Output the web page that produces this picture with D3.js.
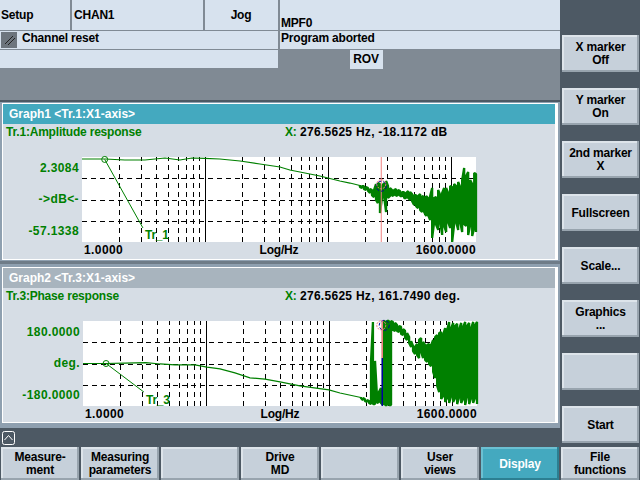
<!DOCTYPE html>
<html>
<head>
<meta charset="utf-8">
<script src="https://cdnjs.cloudflare.com/ajax/libs/d3/7.8.5/d3.min.js"></script>
<style>
html, body { margin: 0; padding: 0; background: #4d5964; overflow: hidden; }
svg { display: block; }
text { font-family: "Liberation Sans", sans-serif; font-weight: bold; font-size: 12px; letter-spacing: -0.2px; }
text.num { letter-spacing: 0.4px; }
text.read { letter-spacing: 0.28px; }
text.head { letter-spacing: 0; }
</style>
</head>
<body>
<svg id="screen" width="640" height="480"></svg>
<script>
// smooth part of both traces
const ampFreq = [1, 1.54, 2.23, 3.25, 4.73, 6.26, 7.84, 10, 13.2, 19.3, 28, 40.7, 49, 59.2, 86, 100, 125, 151, 182];
const ampDb = [0.9, 0.9, 0.2, 0.2, 1.6, 0.2, 1.6, 1.3, 0.9, -0.5, -2.6, -4.7, -6.8, -8.2, -11, -12.4, -14.5, -15.9, -17.6];
const phaseFreq = [1, 1.51, 2.2, 3.25, 4.23, 5.6, 8.14, 10.2, 13, 17.2, 22.8, 30.2, 40, 58, 100, 123, 182];
const phaseDeg = [0, 0, 2, 4, -2, -6, -6, -15, -23, -40, -61, -66, -78, -95, -112, -125, -144];

// noisy part: one high/low pair per frequency
const noiseFreq = [182, 189, 196, 204, 212, 220, 228, 237, 246, 255,
  265, 275, 286, 297, 308, 320, 332, 345, 358, 372,
  386, 401, 416, 432, 449, 466, 483, 502, 521, 541,
  562, 583, 606, 629, 653, 678, 704, 731, 759, 788,
  818, 849, 881, 915, 950, 986, 1024, 1063, 1104, 1146,
  1190, 1235, 1282, 1331, 1382, 1435, 1490, 1547, 1600];
const ampHigh = [-17.3, -18.0, -18.0, -18.7, -19.4, -20.1, -20.8, -20.8, -16.6, -15.9,
  -16.6, -18.0, -15.9, -14.5, -18.0, -19.4, -20.8, -20.8, -20.1, -20.8,
  -21.5, -22.2, -22.2, -22.9, -21.5, -22.2, -23.6, -24.3, -24.3, -25.0,
  -23.6, -25.0, -25.7, -25.0, -26.4, -25.0, -19.4, -26.4, -25.7, -20.8,
  -24.3, -22.9, -19.4, -19.4, -22.9, -18.0, -18.7, -16.6, -18.0, -15.2,
  -18.7, -13.8, -5.4, -11.0, -8.2, -13.8, -16.6, -8.9, -9.6];
const ampLow = [-18.7, -19.4, -20.1, -20.8, -21.5, -22.9, -24.3, -25.7, -27.8, -29.9,
  -36.9, -26.4, -25.0, -36.2, -26.4, -25.0, -25.0, -24.3, -25.0, -24.3,
  -25.0, -25.0, -26.4, -26.4, -26.4, -27.8, -28.5, -31.3, -32.0, -33.4,
  -34.8, -36.2, -36.2, -39.0, -38.3, -41.8, -54.3, -43.2, -45.2, -48.7,
  -43.2, -52.2, -45.9, -50.1, -43.2, -47.3, -57.1, -44.6, -43.2, -48.7,
  -43.2, -50.1, -44.6, -45.9, -52.2, -45.2, -52.9, -47.3, -50.1];
const phaseHigh = [-142, -146, -150, -155, -159, 11, 176, 11, -138, -121,
  -104, 176, 180, 180, 180, 180, 176, 172, 163, 159,
  155, 146, 138, 129, 112, 95, 74, 70, 83, 100,
  108, 91, 78, 78, 83, 78, 100, 112, 121, 129,
  133, 121, 150, 142, 176, 150, 172, 159, 168, 146,
  172, 155, 176, 159, 172, 150, 176, 163, 176];
const phaseLow = [-146, -155, -159, -163, -167, -172, -172, -172, -167, -163,
  -167, -176, -176, -176, -176, -176, 142, 138, 138, 133,
  125, 121, 108, 100, 87, 70, 53, 40, 36, 23,
  49, 23, 15, 6, -2, -11, -36, -61, -95, -121,
  -150, -138, -163, -146, -167, -138, -163, -146, -172, -142,
  -167, -150, -176, -138, -172, -146, -167, -142, -172];

const minorFreqs = [2, 3, 4, 5, 6, 7, 8, 9, 20, 30, 40, 50, 60, 70, 80, 90, 200, 300, 400, 500, 600, 700, 800, 900];
const majorFreqs = [10, 100, 1000];
const cursorFreq = 276.5625;

const sideKeys = [['X marker', 'Off'], ['Y marker', 'On'], ['2nd marker', 'X'], ['Fullscreen'], ['Scale...'], ['Graphics', '...'], [], ['Start']];
const bottomKeys = [['Measure-', 'ment'], ['Measuring', 'parameters'], [], ['Drive', 'MD'], [], ['User', 'views'], ['Display'], ['File', 'functions']];

const GREEN = '#008000';
const svg = d3.select('#screen');

function rect(parent, x, y, w, h, fill, stroke) {
  return parent.append('rect').attr('x', x).attr('y', y).attr('width', w).attr('height', h)
    .attr('fill', fill).attr('stroke', stroke || 'none').attr('shape-rendering', 'crispEdges');
}
function label(parent, x, y, str, color, anchor, cls) {
  return parent.append('text').attr('x', x).attr('y', y).attr('fill', color || '#000')
    .attr('text-anchor', anchor || 'start').attr('class', cls || null).text(str);
}
function softKey(x, y, w, h, lines, active) {
  const g = svg.append('g');
  rect(g, x, y, w, h, active ? '#44a9bf' : '#c6d0da');
  rect(g, x, y, w, 2, active ? '#6cc0d2' : '#dde4ea');
  rect(g, x, y, 2, h, active ? '#6cc0d2' : '#dde4ea');
  rect(g, x, y + h - 2, w, 2, active ? '#2c7f92' : '#98a4ae');
  rect(g, x + w - 2, y, 2, h, active ? '#2c7f92' : '#98a4ae');
  const cy = y + h / 2 + 4 - (lines.length - 1) * 6.5;
  lines.forEach((s, i) => label(g, x + w / 2, cy + i * 13, s, active ? '#fff' : '#000', 'middle'));
}

// header
rect(svg, 0, 0, 560, 101, '#808a94');
rect(svg, 0, 0, 560, 30, '#d7e2ee');
rect(svg, 0, 31, 278, 18, '#d7e2ee');
rect(svg, 280, 31, 280, 18, '#d7e2ee');
rect(svg, 0, 50, 278, 18, '#d7e2ee');
rect(svg, 350, 50, 33, 19, '#d7e2ee');
[70, 203, 278].forEach(x => rect(svg, x, 0, 2, 30, '#808a94'));
rect(svg, 278, 30, 2, 20, '#808a94');
rect(svg, 1, 32, 16, 16, '#6d757d');
svg.append('path').attr('d', 'M5 44L13 36M8 45L15 38').attr('stroke', '#222').attr('fill', 'none');
label(svg, 1, 19, 'Setup');
label(svg, 74, 19, 'CHAN1');
label(svg, 241, 19, 'Jog', '#000', 'middle');
label(svg, 281, 27, 'MPF0');
label(svg, 22, 42, 'Channel reset');
label(svg, 281, 42, 'Program aborted');
label(svg, 366, 63, 'ROV', '#000', 'middle');

// graph panels, outer blue rim and white inner rim
rect(svg, 0, 101, 560, 327, '#8fa0b0');
rect(svg, 0, 100, 560, 2, '#4d5964');
rect(svg, 2, 103, 556, 157, '#fff');
rect(svg, 2, 267, 556, 156, '#fff');
rect(svg, 3, 104, 552, 155, '#d6dde5');
rect(svg, 3, 268, 552, 154, '#d6dde5');
rect(svg, 3, 104, 552, 20, '#44a9bf');
rect(svg, 3, 268, 552, 20, '#a8b4be');
rect(svg, 0, 261, 560, 3, '#6f7c88');
rect(svg, 0, 428, 560, 20, '#4d5964');

function drawPlot(o) {
  const W = 394, H = 85;
  const g = svg.append('g').attr('transform', `translate(${o.x},${o.y})`);
  rect(g, 0, 0, W, H, '#fff');
  const xScale = d3.scaleLog().domain([1, 1600]).range([0, W]);
  const yScale = d3.scaleLinear().domain(o.yDomain).range([H, 0]);
  const mid = (o.yDomain[0] + o.yDomain[1]) / 2;
  const quarter = (o.yDomain[1] - o.yDomain[0]) / 4;

  const gridY = d3.axisLeft(yScale).tickValues([mid - quarter, mid, mid + quarter]).tickSize(-W).tickFormat('');
  const gridMinor = d3.axisBottom(xScale).tickValues(minorFreqs).tickSize(-H).tickFormat('');
  const gridMajor = d3.axisBottom(xScale).tickValues(majorFreqs).tickSize(-H).tickFormat('');
  const gy = g.append('g').call(gridY);
  const gx = g.append('g').attr('transform', `translate(0,${H})`).call(gridMinor);
  const gm = g.append('g').attr('transform', `translate(0,${H})`).call(gridMajor);
  [gy, gx, gm].forEach(a => {
    a.select('.domain').remove();
    a.selectAll('line').attr('stroke', '#000').attr('shape-rendering', 'crispEdges');
  });
  gy.selectAll('line').attr('stroke-dasharray', '5,4');
  gx.selectAll('line').attr('stroke-dasharray', '5,4');

  const line = d3.line().x(d => xScale(d[0])).y(d => yScale(d[1]));
  g.append('path').attr('d', line(o.freq.map((f, i) => [f, o.vals[i]])))
    .attr('fill', 'none').attr('stroke', GREEN).attr('stroke-width', 1.2);
  // high-low-low-high so that neighbouring columns close up into a solid band
  const band = o.noiseFreq.flatMap((f, i) => i % 2 ? [[f, o.low[i]], [f, o.high[i]]] : [[f, o.high[i]], [f, o.low[i]]]);
  g.append('path').attr('d', line(band)).attr('fill', 'none').attr('stroke', GREEN)
    .attr('stroke-width', 2.3).attr('stroke-linejoin', 'bevel');

  // trace name with leader line
  g.append('circle').attr('cx', xScale(o.tag.f)).attr('cy', yScale(o.tag.v)).attr('r', 3)
    .attr('fill', 'none').attr('stroke', GREEN);
  g.append('line').attr('x1', xScale(o.tag.f)).attr('y1', yScale(o.tag.v))
    .attr('x2', xScale(o.tag.endF)).attr('y2', yScale(o.tag.endV)).attr('stroke', GREEN);
  label(g, xScale(o.tag.endF) + 2, yScale(o.tag.textV), o.tag.name, GREEN);

  // x cursor
  const cx = xScale(cursorFreq) - 1;
  g.append('line').attr('x1', cx).attr('x2', cx).attr('y1', 0).attr('y2', o.cursorSplit ? yScale(o.cursorSplit) : H)
    .attr('stroke', '#f08080').attr('stroke-width', o.cursorSplit ? 1.5 : 1);
  if (o.cursorSplit) {
    g.append('line').attr('x1', cx).attr('x2', cx).attr('y1', yScale(o.cursorSplit)).attr('y2', H)
      .attr('stroke', '#0000a0').attr('stroke-width', 1.5);
  }
  g.append('circle').attr('cx', cx + o.blueDx).attr('cy', yScale(o.cursorV)).attr('r', 5)
    .attr('fill', 'none').attr('stroke', '#0000a0').attr('stroke-dasharray', '3,2');
  g.append('circle').attr('cx', cx + o.redDx).attr('cy', yScale(o.cursorV) - o.redDy).attr('r', 4.5)
    .attr('fill', 'none').attr('stroke', '#f08080').attr('stroke-dasharray', '2,1');

  // axis texts
  label(g, 2, H + 12, '1.0000', '#000', 'start', 'num');
  label(g, W / 2, H + 12, 'Log/Hz', '#000', 'middle');
  label(g, W, H + 12, '1600.0000', '#000', 'end', 'num');
  label(g, -3, 15, o.yLabels[0], GREEN, 'end', 'num');
  label(g, -3, 46, o.yLabels[1], GREEN, 'end', 'num');
  label(g, -3, 78, o.yLabels[2], GREEN, 'end', 'num');
  label(svg, 9, o.y - 39, o.head, '#fff', 'start', 'head');
  label(svg, 6, o.y - 21, o.title, GREEN);
  label(svg, 285, o.y - 21, 'X:', GREEN);
  label(svg, 300, o.y - 21, o.readout, '#000', 'start', 'read');
}

drawPlot({
  x: 82, y: 157, yDomain: [-57.1338, 2.3084], freq: ampFreq, vals: ampDb,
  noiseFreq, high: ampHigh, low: ampLow,
  tag: { f: 1.53, v: 0.6, endF: 3.13, endV: -47.3, textV: -55, name: 'Tr_1' },
  cursorV: -18.1172, blueDx: 0, redDx: 0, redDy: 2,
  yLabels: ['2.3084', '->dB<-', '-57.1338'],
  head: 'Graph1 <Tr.1:X1-axis>', title: 'Tr.1:Amplitude response',
  readout: '276.5625 Hz, -18.1172 dB'
});
drawPlot({
  x: 83, y: 321, yDomain: [-180, 180], freq: phaseFreq, vals: phaseDeg,
  noiseFreq, high: phaseHigh, low: phaseLow,
  tag: { f: 1.54, v: 0, endF: 3.13, endV: -121, textV: -172, name: 'Tr_3' },
  cursorV: 161.749, cursorSplit: 23, blueDx: 2, redDx: -1, redDy: 0,
  yLabels: ['180.0000', 'deg.', '-180.0000'],
  head: 'Graph2 <Tr.3:X1-axis>', title: 'Tr.3:Phase response',
  readout: '276.5625 Hz, 161.7490 deg.'
});

// scroll icon
rect(svg, 2.5, 431.5, 12, 13, 'none', '#fff').attr('rx', 2).attr('shape-rendering', null);
svg.append('path').attr('d', 'M4.5 440L8.5 435.5L12.5 440').attr('fill', 'none').attr('stroke', '#fff');

// soft keys
sideKeys.forEach((k, i) => softKey(562, 35 + i * 53, 77, 37, k, false));
bottomKeys.forEach((k, i) => softKey(1 + i * 80, 447, 78, 33, k, k[0] === 'Display'));
</script>
</body>
</html>
